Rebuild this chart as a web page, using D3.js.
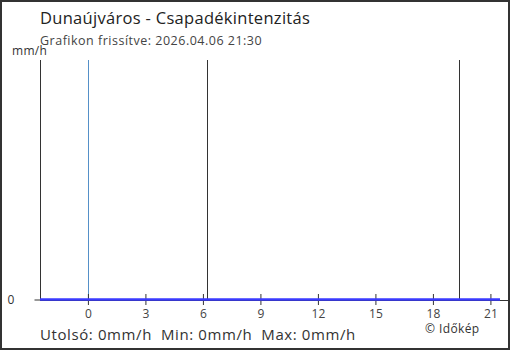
<!DOCTYPE html>
<html>
<head>
<meta charset="utf-8">
<script src="https://cdn.jsdelivr.net/npm/d3@7"></script>
<style>
  body { margin: 0; background: #fff; }
  svg text { font-family: "Open Sans", sans-serif; }
</style>
</head>
<body>
<svg id="chart" width="510" height="350"></svg>
<script>
    // hours relative to midnight, and measured intensity (mm/h)
    var hours = [-2.5, -1.5, -0.5, 0.5, 1.5, 2.5, 3.5, 4.5, 5.5, 6.5, 7.5, 8.5,
                 9.5, 10.5, 11.5, 12.5, 13.5, 14.5, 15.5, 16.5, 17.5, 18.5, 19.5, 20.5, 21.5];
    var intensity = [0, 0, 0, 0, 0, 0, 0, 0, 0, 0, 0, 0,
                     0, 0, 0, 0, 0, 0, 0, 0, 0, 0, 0, 0, 0];
    var xTicks = [0, 3, 6, 9, 12, 15, 18, 21];
    var yTicks = [0];
    var midnight = [0];
    var sunMarks = [6.2, 19.35];   // napkelte / napnyugta

    var titleText = "Dunaújváros - Csapadékintenzitás";
    var updatedText = "Grafikon frissítve: 2026.04.06 21:30";
    var statsText = "Utolsó: 0mm/h  Min: 0mm/h  Max: 0mm/h";

    var svg = d3.select("#chart"),
        width = +svg.attr("width"),
        height = +svg.attr("height");

    var x = d3.scaleLinear().domain([-2.5, 21.5]).range([40, 500]);
    var y = d3.scaleLinear().domain([0, 1]).range([299.5, 60]);

    // frame
    svg.append("rect")
      .attr("x", 1).attr("y", 1)
      .attr("width", width - 2).attr("height", height - 2)
      .attr("fill", "none").attr("stroke", "#333").attr("stroke-width", 2);

    svg.append("text").attr("x", 40).attr("y", 24)
      .attr("font-size", 16.5).attr("letter-spacing", 0.3)
      .attr("fill", "#222").text(titleText);
    svg.append("text").attr("x", 40).attr("y", 45)
      .attr("font-size", 12.5).attr("letter-spacing", 0.5)
      .attr("fill", "#444").text(updatedText);
    svg.append("text").attr("x", 12).attr("y", 55)
      .attr("font-size", 12).attr("letter-spacing", 0.3)
      .attr("fill", "#333").text("mm/h");

    // vertical markers
    svg.append("g").selectAll("line")
      .data(sunMarks)
      .enter().append("line")
      .attr("x1", function(d) { return Math.round(x(d)) + 0.5; })
      .attr("x2", function(d) { return Math.round(x(d)) + 0.5; })
      .attr("y1", 60).attr("y2", 299)
      .attr("stroke", "#333").attr("stroke-width", 1);

    svg.append("g").selectAll("line")
      .data(midnight)
      .enter().append("line")
      .attr("x1", function(d) { return Math.round(x(d)) + 0.5; })
      .attr("x2", function(d) { return Math.round(x(d)) + 0.5; })
      .attr("y1", 60).attr("y2", 299)
      .attr("stroke", "#5590c8").attr("stroke-width", 1);

    // x axis
    var xAxis = svg.append("g")
      .attr("transform", "translate(0,300)")
      .call(d3.axisBottom(x).tickValues(xTicks).tickSize(5).tickSizeOuter(0));
    xAxis.select(".domain").attr("d", "M40,0.5H508").attr("stroke", "#333");
    xAxis.selectAll(".tick line").attr("y1", -6).attr("y2", 5).attr("stroke", "#333");
    xAxis.selectAll(".tick text").attr("y", 9)
      .attr("font-size", 12).attr("fill", "#444").attr("font-family", "Open Sans, sans-serif");

    // y axis
    var yAxis = svg.append("g")
      .attr("transform", "translate(40.5,0)")
      .call(d3.axisLeft(y).tickValues(yTicks).tickFormat(d3.format("d"))
        .tickSize(6).tickSizeOuter(0));
    yAxis.select(".domain").attr("d", "M0,60V300").attr("stroke", "#333");
    yAxis.selectAll(".tick line").attr("stroke", "#333");
    yAxis.selectAll(".tick text").attr("x", -33).attr("text-anchor", "start")
      .attr("font-size", 12).attr("fill", "#333").attr("font-family", "Open Sans, sans-serif");

    // series
    var line = d3.line()
      .x(function(d, i) { return x(hours[i]); })
      .y(function(d) { return y(d); });
    svg.append("path")
      .datum(intensity)
      .attr("d", line)
      .attr("fill", "none")
      .attr("stroke", "#3a3aff")
      .attr("stroke-width", 2.5);

    svg.append("text").attr("x", 40).attr("y", 340)
      .attr("font-size", 15).attr("letter-spacing", 0.6).attr("fill", "#333")
      .style("white-space", "pre").text(statsText);
    svg.append("text").attr("x", 425).attr("y", 333)
      .attr("font-size", 12).attr("letter-spacing", 0.4).attr("fill", "#333").text("© Időkép");
</script>
</body>
</html>
